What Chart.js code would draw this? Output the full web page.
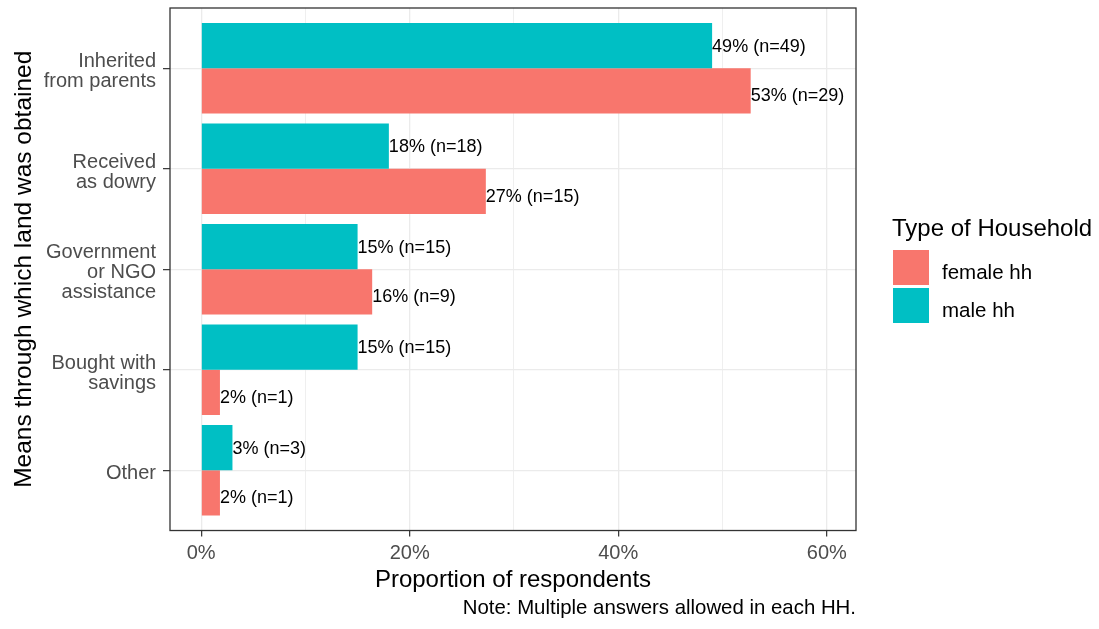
<!DOCTYPE html>
<html>
<head>
<meta charset="utf-8">
<title>Means through which land was obtained</title>
<script src="https://cdn.jsdelivr.net/npm/chart.js"></script>
<style>
  html, body { margin: 0; padding: 0; background: #fff; }
  #wrap { width: 1099px; height: 629px; }
</style>
</head>
<body>
<div id="wrap"><canvas id="landChart" width="1099" height="629"></canvas></div>
<script>
// data
const categories = [
    ['Inherited', 'from parents'],
    ['Received', 'as dowry'],
    ['Government', 'or NGO', 'assistance'],
    ['Bought with', 'savings'],
    ['Other']
];
const categoryIndex = [0, 1, 2, 3, 4];
const maleLabel = 'male hh';
const femaleLabel = 'female hh';
const malePct = [49, 18, 15, 15, 3];
const maleN = [49, 18, 15, 15, 3];
const femalePct = [52.7, 27.3, 16.4, 1.8, 1.8];
const femaleN = [29, 15, 9, 1, 1];
const xTicks = [0, 10, 20, 30, 40, 50, 60];

const FONT = '"Liberation Sans", Arial, sans-serif';
const MALE_COLOR = '#00BFC4';
const FEMALE_COLOR = '#F8766D';

Chart.defaults.font.family = FONT;

// percent + count text at the end of each bar
const barLabels = {
    id: 'barLabels',
    afterDatasetsDraw: function(chart) {
        const ctx = chart.ctx;
        const area = chart.chartArea;

        // panel border first (theme_bw)
        ctx.save();
        ctx.strokeStyle = '#333333';
        ctx.lineWidth = 1.3;
        ctx.strokeRect(area.left, area.top, area.right - area.left, area.bottom - area.top);
        ctx.restore();

        ctx.save();
        ctx.font = '18px ' + FONT;
        ctx.fillStyle = '#000';
        ctx.textAlign = 'left';
        ctx.textBaseline = 'middle';
        chart.data.datasets.forEach((ds, i) => {
            chart.getDatasetMeta(i).data.forEach((bar, j) => {
                const txt = Math.round(ds.data[j].x) + '% (n=' + ds.counts[j] + ')';
                ctx.fillText(txt, bar.x, bar.y + 1 + (ds.labelShift || 0));
            });
        });
        ctx.restore();
    }
};

// legend on the right, ggplot style (female listed first)
const sideLegend = {
    id: 'sideLegend',
    afterDraw: function(chart) {
        const ctx = chart.ctx;
        const left = chart.chartArea.right + 36;
        ctx.save();
        ctx.fillStyle = '#000';
        ctx.textAlign = 'left';
        ctx.textBaseline = 'alphabetic';
        ctx.font = '24px ' + FONT;
        ctx.fillText('Type of Household', left, 236);

        const items = chart.data.datasets.slice().reverse();
        ctx.font = '20.5px ' + FONT;
        items.forEach((ds, i) => {
            const top = 250 + i * 38;
            ctx.fillStyle = ds.backgroundColor;
            ctx.fillRect(left + 1, top, 36, 35);
            ctx.fillStyle = '#000';
            ctx.fillText(ds.label, left + 50, top + 28.5);
        });
        ctx.restore();
    }
};

new Chart(document.getElementById('landChart'), {
    type: 'bar',
    data: {
        datasets: [
            {
                label: maleLabel,
                data: malePct.map((v, i) => ({ x: v, y: categoryIndex[i] })),
                counts: maleN,
                labelShift: 0,
                backgroundColor: MALE_COLOR
            },
            {
                label: femaleLabel,
                data: femalePct.map((v, i) => ({ x: v, y: categoryIndex[i] })),
                counts: femaleN,
                labelShift: 4.5,
                backgroundColor: FEMALE_COLOR
            }
        ]
    },
    options: {
        indexAxis: 'y',
        responsive: false,
        animation: false,
        categoryPercentage: 0.9,
        barPercentage: 1.0,
        layout: { padding: { top: 8, right: 243, bottom: 0, left: 0 } },
        plugins: {
            legend: { display: false },
            tooltip: { enabled: false },
            subtitle: {
                display: true,
                text: 'Note: Multiple answers allowed in each HH.',
                position: 'bottom',
                align: 'end',
                fullSize: false,
                color: '#000',
                font: { size: 20.4, family: FONT },
                padding: { top: 2, bottom: 8 }
            }
        },
        scales: {
            x: {
                type: 'linear',
                min: -2.99,
                max: 62.8,
                afterBuildTicks: function(scale) {
                    scale.ticks = xTicks.map(v => ({ value: v }));
                },
                afterFit: function(scale) { scale.height = 64; },
                ticks: {
                    color: '#4d4d4d',
                    font: { size: 20 },
                    padding: 5,
                    maxRotation: 0,
                    autoSkip: false,
                    callback: v => (v % 20 === 0 ? v + '%' : '')
                },
                grid: {
                    color: '#ebebeb',
                    lineWidth: c => (c.tick && c.tick.value % 20 === 0 ? 1.3 : 0.8),
                    tickColor: c => (c.tick && c.tick.value % 20 === 0 ? '#333333' : 'rgba(0,0,0,0)'),
                    tickWidth: 1.2,
                    tickLength: 6
                },
                border: { display: false },
                title: {
                    display: true,
                    text: 'Proportion of respondents',
                    color: '#000',
                    font: { size: 24 },
                    padding: { top: 0, bottom: 0 }
                }
            },
            y: {
                type: 'linear',
                reverse: true,
                offset: false,
                min: -0.6,
                max: 4.6,
                afterBuildTicks: function(scale) {
                    scale.ticks = categoryIndex.map(v => ({ value: v }));
                },
                afterFit: function(scale) {
                    scale.width = 170;
                    scale.paddingTop = 0;
                    scale.paddingBottom = 0;
                },
                ticks: {
                    color: '#4d4d4d',
                    font: { size: 20, lineHeight: 1.0 },
                    padding: 7,
                    labelOffset: 3.5,
                    autoSkip: false,
                    callback: v => categories[v]
                },
                grid: {
                    offset: false,
                    color: '#ebebeb',
                    lineWidth: 1.3,
                    tickColor: '#333333',
                    tickWidth: 1.2,
                    tickLength: 7
                },
                border: { display: false },
                title: {
                    display: true,
                    text: 'Means through which land was obtained',
                    color: '#000',
                    font: { size: 24.5 },
                    padding: { top: 10, bottom: 0 }
                }
            }
        }
    },
    plugins: [barLabels, sideLegend]
});
</script>
</body>
</html>
